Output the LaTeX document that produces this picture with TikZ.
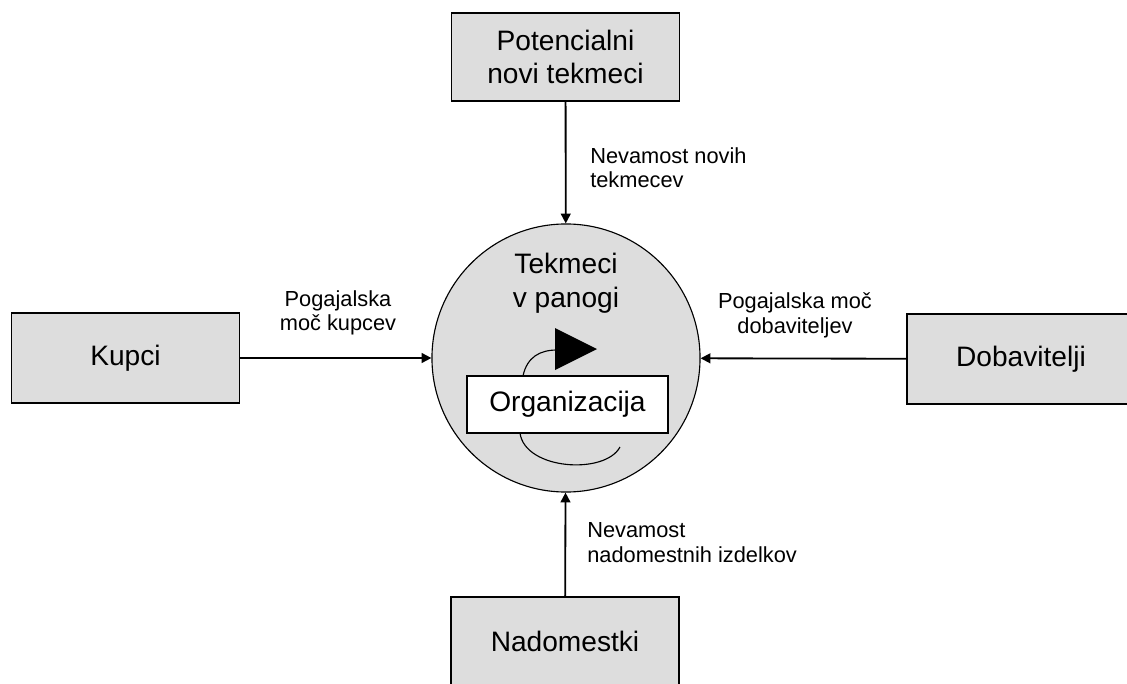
\documentclass[tikz,border=0pt]{standalone}
\usepackage{fontspec}
\setmainfont{Liberation Sans}
\usetikzlibrary{arrows.meta,positioning}
\definecolor{panelgray}{RGB}{221,221,221}

\tikzset{
  force/.style={draw=black,line width=1.1pt,fill=panelgray,minimum width=5.7cm,
    minimum height=2.2cm,align=center,font=\fontsize{20}{24}\selectfont},
  pressure/.style={-{Triangle[length=7pt,width=7pt]},line width=1.3pt},
  forcelabel/.style={font=\fontsize{15.5}{17.7}\selectfont,inner sep=0pt}
}

\begin{document}
\begin{tikzpicture}[x=0.025cm,y=-0.025cm]
    \useasboundingbox (0,0) rectangle (1127,684);
    % industry rivalry in the middle
    \node[circle,draw,line width=0.8pt,fill=panelgray,minimum size=6.7cm,inner sep=0pt] (market) at (566,358) {};
    \node[align=center,font=\fontsize{20}{24.5}\selectfont] (rivals) at (566,283) {Tekmeci\\v panogi};
    \node[draw,line width=1.1pt,fill=white,minimum width=5.025cm,minimum height=1.425cm,
      font=\fontsize{20}{24}\selectfont] (org) at (567.5,404.5) {Organizacija};
    % rotation around the organisation
    \draw[line width=0.8pt] (523,376) .. controls (527,357) and (540,350) .. (557,350);
    \fill (555,328) -- (597,349) -- (555,370) -- cycle;
    \draw[line width=0.8pt] (520,433) .. controls (525,470) and (605,475) .. (620,447);
    % the four outside forces
    \node[force] (entrants) at (565.5,57) {Potencialni\\novi tekmeci};
    \node[force,minimum height=2.25cm] (buyers) at (125.5,358) {Kupci};
    \node[force,minimum height=2.25cm] (suppliers) at (1021,359) {Dobavitelji};
    \node[force] (substitutes) at (565,641) {Nadomestki};
    \draw[pressure] (entrants) -- (market);
    \draw[pressure] (buyers) -- (market);
    \draw[pressure] (suppliers) -- (market);
    \draw[pressure] (substitutes) -- (market);
    % labels on the arrows
    \node[forcelabel,align=left,anchor=north west] (l1) at (590,147) {Nevamost novih\\tekmecev};
    \node[forcelabel,align=center,anchor=north] (l2) at (338,290) {Pogajalska\\moč kupcev};
    \node[forcelabel,align=center,anchor=north] (l3) at (795,292) {Pogajalska moč\\dobaviteljev};
    \node[forcelabel,align=left,anchor=north west] (l4) at (587,522) {Nevamost\\nadomestnih izdelkov};
  \end{tikzpicture}
\end{document}
